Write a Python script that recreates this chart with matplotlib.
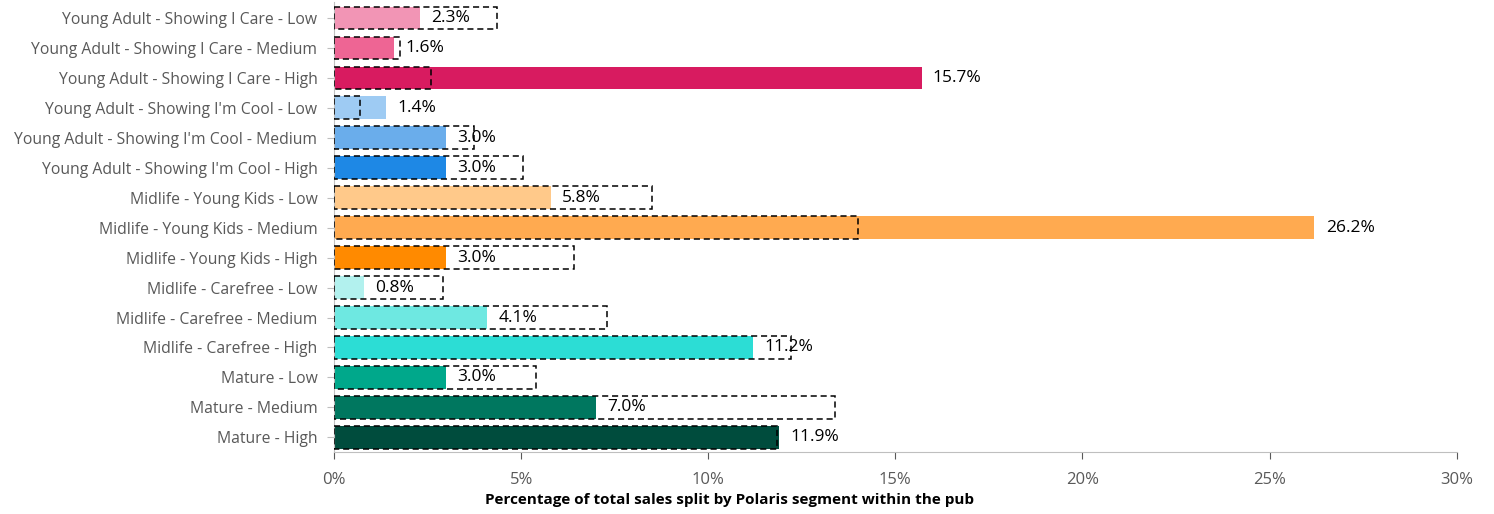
import matplotlib.pyplot as plt
import matplotlib.ticker as mticker

# ─── DATA ────────────────────────────────────────────────
segments = [
    "Young Adult - Showing I Care - Low",
    "Young Adult - Showing I Care - Medium",
    "Young Adult - Showing I Care - High",
    "Young Adult - Showing I'm Cool - Low",
    "Young Adult - Showing I'm Cool - Medium",
    "Young Adult - Showing I'm Cool - High",
    "Midlife - Young Kids - Low",
    "Midlife - Young Kids - Medium",
    "Midlife - Young Kids - High",
    "Midlife - Carefree - Low",
    "Midlife - Carefree - Medium",
    "Midlife - Carefree - High",
    "Mature - Low",
    "Mature - Medium",
    "Mature - High",
]
pub_share = [2.3, 1.6, 15.7, 1.4, 3.0, 3.0, 5.8, 26.2, 3.0, 0.8, 4.1, 11.2, 3.0, 7.0, 11.9]
benchmark = [4.35, 1.75, 2.6, 0.7, 3.75, 5.05, 8.5, 14.0, 6.4, 2.9, 7.3, 12.2, 5.4, 13.4, 11.85]
colors = [
    "#F295B5", "#EE6594", "#D81B60",
    "#9ECBF3", "#6AADEB", "#1E88E5",
    "#FFC98A", "#FFAA50", "#FF8A00",
    "#B2F1EE", "#6EE8E1", "#2CDDD5",
    "#00A88B", "#00775F", "#004C3D",
]

GREY = "#595959"
FONT = "Open Sans"

fig, ax = plt.subplots(figsize=(14.94, 5.14), dpi=100)
fig.subplots_adjust(left=0.2236, right=0.975, top=0.997, bottom=0.12)

ypos = list(range(len(segments)))
ax.barh(ypos, pub_share, height=0.76, color=colors, zorder=2)
ax.barh(ypos, benchmark, height=0.76, facecolor="none", edgecolor="black",
        linestyle=(0, (4, 2.5)), linewidth=1.1, zorder=3)

for y, v in zip(ypos, pub_share):
    ax.text(v + 0.3, y, f"{v:.1f}%", va="center", ha="left",
            fontsize=12.5, color="black", family=FONT, zorder=4)

ax.set_ylim(len(segments) - 0.5, -0.55)
ax.set_xlim(0, 30)
ax.set_yticks(ypos)
ax.set_yticklabels(segments, fontsize=11.3, color=GREY, family=FONT)
ax.xaxis.set_major_locator(mticker.MultipleLocator(5))
ax.xaxis.set_major_formatter(mticker.FuncFormatter(lambda x, _: f"{x:.0f}%"))
ax.tick_params(axis="x", colors=GREY, labelsize=12, length=5, direction="out", pad=9)
ax.tick_params(axis="y", colors="#BFBFBF", labelcolor=GREY, length=5, direction="out", pad=7)
for lbl in ax.get_xticklabels():
    lbl.set_family(FONT)

# axis title sits left of the axes centre, as in the original
fig.text(0.4886, 0.027, "Percentage of total sales split by Polaris segment within the pub",
         ha="center", va="center", fontsize=11, fontweight="bold", color="black", family=FONT)

for side in ["top", "right"]:
    ax.spines[side].set_visible(False)
ax.spines["left"].set_color("#BFBFBF")
ax.spines["bottom"].set_color("#BFBFBF")

plt.savefig("out.png", dpi=100)
